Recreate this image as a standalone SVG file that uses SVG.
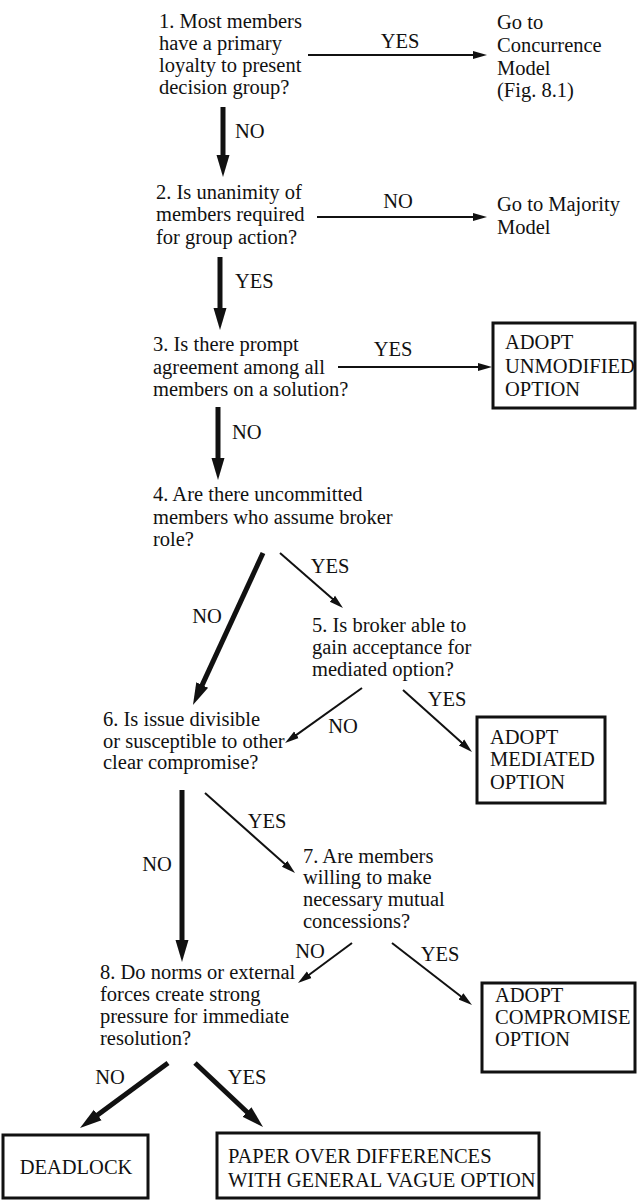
<svg xmlns="http://www.w3.org/2000/svg" width="637" height="1202" viewBox="0 0 637 1202">
<defs>
<style>
text{font-family:"Liberation Serif","Times New Roman",serif;font-size:20.5px;fill:#111}
.lbl{text-anchor:middle}
.thin{stroke:#111;stroke-width:2;fill:none;marker-end:url(#hthin)}
.thick{stroke:#111;stroke-width:5;fill:none;marker-end:url(#hthick)}
.box{fill:none;stroke:#111;stroke-width:3}
</style>
<marker id="hthin" markerUnits="userSpaceOnUse" markerWidth="16" markerHeight="10" viewBox="0 -5 16 10" refX="3" refY="0" orient="auto"><path d="M0,-4 L14,0 L0,4 z" fill="#111"/></marker>
<marker id="hthick" markerUnits="userSpaceOnUse" markerWidth="24" markerHeight="16" viewBox="0 -8 24 16" refX="4" refY="0" orient="auto"><path d="M0,-6.5 L22,0 L0,6.5 z" fill="#111"/></marker>
</defs>
<rect width="637" height="1202" fill="#fff"/>
<g id="connectors">
<line class="thin" x1="308" y1="55" x2="476" y2="55"/>
<text class="lbl" x="400" y="48">YES</text>
<line class="thick" x1="223" y1="107" x2="223" y2="159"/>
<text x="235" y="138">NO</text>
<line class="thin" x1="317" y1="217" x2="476" y2="217"/>
<text class="lbl" x="398" y="208">NO</text>
<line class="thick" x1="220" y1="257" x2="220" y2="312"/>
<text x="235" y="288">YES</text>
<line class="thin" x1="338" y1="367" x2="481" y2="367"/>
<text class="lbl" x="393" y="356">YES</text>
<line class="thick" x1="218" y1="407" x2="218" y2="462"/>
<text x="232" y="439">NO</text>
<line class="thick" x1="263" y1="553" x2="200.5" y2="688.6"/>
<text class="lbl" x="207" y="623">NO</text>
<line class="thin" x1="280" y1="553" x2="334.7" y2="600.8"/>
<text class="lbl" x="330" y="573">YES</text>
<line class="thin" x1="362" y1="688" x2="294" y2="736.6"/>
<text class="lbl" x="343" y="733">NO</text>
<line class="thin" x1="403" y1="690" x2="463.8" y2="744.6"/>
<text class="lbl" x="447" y="706">YES</text>
<line class="thick" x1="182" y1="790" x2="182" y2="944"/>
<text class="lbl" x="157" y="871">NO</text>
<line class="thin" x1="205" y1="793" x2="286.8" y2="865.7"/>
<text class="lbl" x="267" y="828">YES</text>
<line class="thin" x1="352" y1="943" x2="306.8" y2="976.5"/>
<text class="lbl" x="310" y="958">NO</text>
<line class="thin" x1="392" y1="943" x2="463.3" y2="998.3"/>
<text class="lbl" x="440" y="961">YES</text>
<line class="thick" x1="168" y1="1063" x2="94.5" y2="1117.3"/>
<text class="lbl" x="110" y="1084">NO</text>
<line class="thick" x1="195" y1="1063" x2="249.9" y2="1114.7"/>
<text class="lbl" x="247" y="1084">YES</text>
</g>
<g id="q1">
<text x="159" y="28">1. Most members</text>
<text x="159" y="50">have a primary</text>
<text x="159" y="72">loyalty to present</text>
<text x="159" y="94">decision group?</text>
</g>
<g id="concurrence">
<text x="497" y="29">Go to</text>
<text x="497" y="52">Concurrence</text>
<text x="497" y="75">Model</text>
<text x="497" y="97">(Fig. 8.1)</text>
</g>
<g id="q2">
<text x="156" y="199">2. Is unanimity of</text>
<text x="156" y="221">members required</text>
<text x="156" y="244">for group action?</text>
</g>
<g id="majority">
<text x="497" y="211">Go to Majority</text>
<text x="497" y="234">Model</text>
</g>
<g id="q3">
<text x="153" y="351">3. Is there prompt</text>
<text x="153" y="374">agreement among all</text>
<text x="153" y="396">members on a solution?</text>
</g>
<g id="unmodified">
<rect class="box" x="493" y="323" width="142" height="85"/>
<text x="505" y="349">ADOPT</text>
<text x="505" y="373">UNMODIFIED</text>
<text x="505" y="396">OPTION</text>
</g>
<g id="q4">
<text x="153" y="501">4. Are there uncommitted</text>
<text x="153" y="524">members who assume broker</text>
<text x="153" y="546">role?</text>
</g>
<g id="q5">
<text x="312" y="632">5. Is broker able to</text>
<text x="312" y="654">gain acceptance for</text>
<text x="312" y="676">mediated option?</text>
</g>
<g id="mediated">
<rect class="box" x="477" y="717" width="128" height="86"/>
<text x="490" y="744">ADOPT</text>
<text x="490" y="766">MEDIATED</text>
<text x="490" y="789">OPTION</text>
</g>
<g id="q6">
<text x="103" y="726">6. Is issue divisible</text>
<text x="103" y="748">or susceptible to other</text>
<text x="103" y="769">clear compromise?</text>
</g>
<g id="q7">
<text x="303" y="863">7. Are members</text>
<text x="303" y="884">willing to make</text>
<text x="303" y="906">necessary mutual</text>
<text x="303" y="928">concessions?</text>
</g>
<g id="compromise">
<rect class="box" x="482" y="983" width="153" height="89"/>
<text x="495" y="1002">ADOPT</text>
<text x="495" y="1024">COMPROMISE</text>
<text x="495" y="1046">OPTION</text>
</g>
<g id="q8">
<text x="100" y="979">8. Do norms or external</text>
<text x="100" y="1001">forces create strong</text>
<text x="100" y="1023">pressure for immediate</text>
<text x="100" y="1045">resolution?</text>
</g>
<g id="deadlock">
<rect class="box" x="3" y="1135" width="145" height="63"/>
<text class="lbl" x="76" y="1174">DEADLOCK</text>
</g>
<g id="paper">
<rect class="box" x="217" y="1133" width="322" height="65"/>
<text x="228" y="1163">PAPER OVER DIFFERENCES</text>
<text x="228" y="1187">WITH GENERAL VAGUE OPTION</text>
</g>
</svg>
